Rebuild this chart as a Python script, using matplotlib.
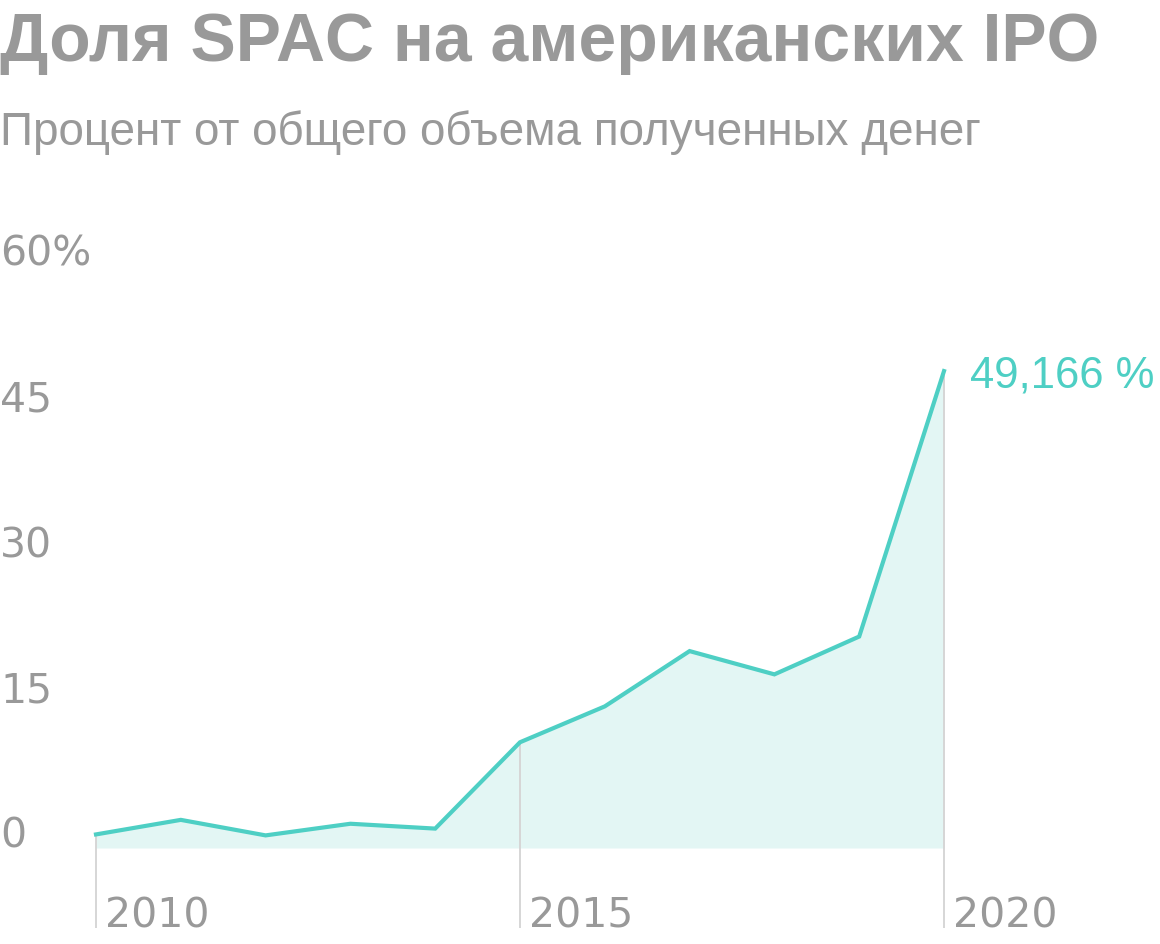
import matplotlib
matplotlib.use("Agg")
import matplotlib.pyplot as plt
import matplotlib.transforms as mtransforms

years = [2010, 2011, 2012, 2013, 2014, 2015, 2016, 2017, 2018, 2019, 2020]
share = [1.4, 2.9, 1.3, 2.5, 2.0, 10.9, 14.6, 20.3, 17.9, 21.8, 49.166]
ytick_vals = [0, 15, 30, 45, 60]
ytick_labels = ["0", "15", "30", "45", "60%"]
xtick_vals = [2010, 2015, 2020]
xtick_labels = ["2010", "2015", "2020"]
title = "Доля SPAC на американских IPO"
subtitle = "Процент от общего объема полученных денег"
last_label = "49,166 %"

W, H = 1160, 944
GRAY = "#999999"
TEAL = "#4ecfc4"
FILL = "#e3f6f4"
VLINE = "#d6d6d6"
FONT = ["Liberation Sans", "DejaVu Sans"]
NUMFONT = ["DejaVu Sans"]

fig = plt.figure(figsize=(W / 100, H / 100), dpi=100)

# axes in pixel coordinates
x0_px, x1_px = 96, 944
ytop_px, ybot_px = 200, 928
zero_px, sixty_px = 848, 266
ax = fig.add_axes([x0_px / W, 1 - ybot_px / H, (x1_px - x0_px) / W, (ybot_px - ytop_px) / H])
ppu = (zero_px - sixty_px) / 60.0
ax.set_xlim(2010, 2020)
ax.set_ylim(-(ybot_px - zero_px) / ppu, (zero_px - ytop_px) / ppu)
ax.axis("off")

ymin = ax.get_ylim()[0]
ax.fill_between(years, 0, share, color=FILL, lw=0, zorder=1)
for xv in xtick_vals:
    yv = share[years.index(xv)]
    ax.plot([xv, xv], [ymin, yv], color=VLINE, lw=1.4, zorder=2, clip_on=False,
            solid_capstyle="butt")
ax.plot(years, share, color=TEAL, lw=3.0, zorder=3, clip_on=False,
        solid_joinstyle="miter")

# y labels
blend = mtransforms.blended_transform_factory(fig.transFigure, ax.transData)
for v, lab in zip(ytick_vals, ytick_labels):
    ax.text(0.0, v, lab, transform=blend, ha="left", va="baseline",
            fontsize=29.5, color=GRAY, family=NUMFONT)

# x labels
offset = mtransforms.ScaledTranslation(9 / 100, 0, fig.dpi_scale_trans)
for xv, lab in zip(xtick_vals, xtick_labels):
    ax.text(xv, ymin, lab, transform=ax.transData + offset, ha="left", va="baseline",
            fontsize=29.5, color=GRAY, family=NUMFONT)

# last value label
off2 = mtransforms.ScaledTranslation(26 / 100, -16 / 100, fig.dpi_scale_trans)
ax.text(years[-1], share[-1], last_label, transform=ax.transData + off2,
        ha="left", va="baseline", fontsize=31.5, color=TEAL, family=FONT)

fig.text(0.0, 1 - 61 / H, title, ha="left", va="baseline", fontsize=48.9,
         fontweight="bold", color=GRAY, family=FONT)
fig.text(0.0, 1 - 145 / H, subtitle, ha="left", va="baseline", fontsize=33,
         color=GRAY, family=FONT)

fig.savefig("out.png", dpi=100, facecolor="white")
